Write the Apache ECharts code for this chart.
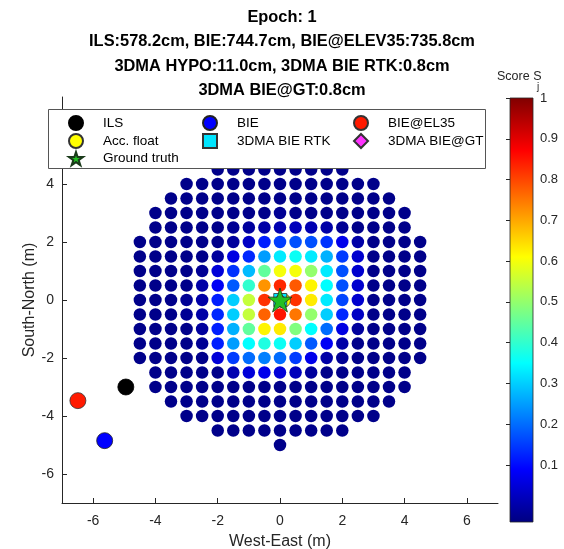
<!DOCTYPE html>
<html><head><meta charset="utf-8">
<script src="https://cdn.jsdelivr.net/npm/echarts/dist/echarts.min.js"></script>
<style>html,body{margin:0;padding:0;background:#fff}#c{width:564px;height:549px}</style>
</head><body><div id="c"></div>
<script>
const _ = null;
const titleLines = ['Epoch: 1', 'ILS:578.2cm, BIE:744.7cm, BIE@ELEV35:735.8cm', '3DMA HYPO:11.0cm, 3DMA BIE RTK:0.8cm', '3DMA BIE@GT:0.8cm'];
const xTicks = [-6, -4, -2, 0, 2, 4, 6];
const yTicks = [-6, -4, -2, 0, 2, 4, 6];
const yTickLabels = [-6, -4, -2, 0, 2, 4];
const cbTicks = [0.1, 0.2, 0.3, 0.4, 0.5, 0.6, 0.7, 0.8, 0.9, 1];
const gridX = [-5, -4.5, -4, -3.5, -3, -2.5, -2, -1.5, -1, -0.5, 0, 0.5, 1, 1.5, 2, 2.5, 3, 3.5, 4, 4.5, 5];
const gridY = [5, 4.5, 4, 3.5, 3, 2.5, 2, 1.5, 1, 0.5, 0, -0.5, -1, -1.5, -2, -2.5, -3, -3.5, -4, -4.5, -5];
const scoreRows = [
  [_,_,_,_,_,_,_,_,_,_,-0.03,_,_,_,_,_,_,_,_,_,_],
  [_,_,_,_,_,_,-0.03,-0.03,-0.03,-0.03,-0.03,-0.03,-0.03,-0.03,-0.03,_,_,_,_,_,_],
  [_,_,_,_,-0.03,-0.03,-0.03,-0.03,-0.03,-0.03,-0.03,-0.03,-0.03,-0.03,-0.03,-0.03,-0.03,_,_,_,_],
  [_,_,_,-0.03,-0.03,-0.03,-0.03,-0.03,-0.03,-0.03,-0.03,-0.03,-0.03,-0.03,-0.03,-0.03,-0.03,-0.03,_,_,_],
  [_,_,-0.03,-0.03,-0.03,-0.03,-0.03,-0.03,-0.03,-0.03,-0.02,-0.03,-0.03,-0.03,-0.03,-0.03,-0.03,-0.03,-0.03,_,_],
  [_,_,-0.03,-0.03,-0.03,-0.03,-0.03,-0.02,-0.01,0.0,0.01,0.02,0.01,0.0,-0.02,-0.03,-0.03,-0.03,-0.03,_,_],
  [_,-0.03,-0.03,-0.03,-0.03,-0.03,-0.03,-0.01,0.03,0.12,0.15,0.17,0.17,0.14,0.07,0.0,-0.03,-0.03,-0.03,-0.03,_],
  [_,-0.03,-0.03,-0.03,-0.03,-0.03,-0.01,0.06,0.13,0.25,0.33,0.36,0.33,0.27,0.15,0.04,-0.03,-0.03,-0.03,-0.03,_],
  [_,-0.03,-0.03,-0.03,-0.03,-0.02,0.05,0.14,0.28,0.45,0.6,0.6,0.5,0.33,0.17,0.04,-0.03,-0.03,-0.03,-0.03,_],
  [_,-0.03,-0.03,-0.03,-0.03,0.0,0.08,0.18,0.4,0.72,0.83,0.78,0.62,0.35,0.17,0.04,-0.03,-0.03,-0.03,-0.03,_],
  [_,-0.03,-0.03,-0.03,-0.02,0.0,0.12,0.3,0.55,0.82,0.97,0.82,0.63,0.33,0.16,0.04,-0.03,-0.03,-0.03,-0.03,_],
  [_,-0.03,-0.03,-0.03,-0.02,0.0,0.13,0.3,0.55,0.77,0.85,0.75,0.5,0.3,0.13,0.03,-0.03,-0.03,-0.03,-0.03,_],
  [_,-0.03,-0.03,-0.03,-0.03,-0.01,0.12,0.27,0.45,0.62,0.63,0.48,0.35,0.2,0.06,-0.01,-0.03,-0.03,-0.03,-0.03,_],
  [_,-0.03,-0.03,-0.03,-0.03,-0.02,0.12,0.25,0.35,0.38,0.36,0.3,0.18,0.08,0.0,-0.03,-0.03,-0.03,-0.03,-0.03,_],
  [_,-0.03,-0.03,-0.03,-0.03,-0.03,0.05,0.15,0.2,0.22,0.2,0.15,0.07,0.0,-0.02,-0.03,-0.03,-0.03,-0.03,-0.03,_],
  [_,_,-0.03,-0.03,-0.03,-0.03,-0.03,0.01,0.05,0.07,0.05,0.02,-0.01,-0.03,-0.03,-0.03,-0.03,-0.03,-0.03,_,_],
  [_,_,-0.03,-0.03,-0.03,-0.03,-0.03,-0.03,-0.03,-0.03,-0.03,-0.03,-0.03,-0.03,-0.03,-0.03,-0.03,-0.03,-0.03,_,_],
  [_,_,_,-0.03,-0.03,-0.03,-0.03,-0.03,-0.03,-0.03,-0.03,-0.03,-0.03,-0.03,-0.03,-0.03,-0.03,-0.03,_,_,_],
  [_,_,_,_,-0.03,-0.03,-0.03,-0.03,-0.03,-0.03,-0.03,-0.03,-0.03,-0.03,-0.03,-0.03,-0.03,_,_,_,_],
  [_,_,_,_,_,_,-0.03,-0.03,-0.03,-0.03,-0.03,-0.03,-0.03,-0.03,-0.03,_,_,_,_,_,_],
  [_,_,_,_,_,_,_,_,_,_,-0.03,_,_,_,_,_,_,_,_,_,_]
];
const ilsPos = [[-4.95, -3.0]];
const biePos = [[-5.63, -4.85]];
const bieEl35Pos = [[-6.49, -3.47]];
const accFloatPos = [[0.11, -0.02]];
const bieRtkPos = [[0.008, 0.0]];
const bieGtPos = [[0.006, -0.004]];
const groundTruthPos = [[0, 0]];
const cbMin = -0.04, cbMax = 1;
const jet = ['#000080','#0000FF','#0080FF','#00FFFF','#80FF80','#FFFF00','#FF8000','#FF0000','#800000'];

const gridData = [];
scoreRows.forEach((row, i) => row.forEach((s, j) => { if (s !== null) gridData.push([gridX[j], gridY[i], s]); }));

const FONT = 'Liberation Sans, Arial, Helvetica, sans-serif';
const AX = '#262626';
const STAR = 'path://M50,2 L61.2,36.2 L97.6,36.2 L68.2,57.6 L79.4,91.8 L50,70.6 L20.6,91.8 L31.8,57.6 L2.4,36.2 L38.8,36.2 Z';

const chart = echarts.init(document.getElementById('c'), null, {renderer: 'canvas'});
const legendBase = {
  orient: 'vertical', top: 115, itemWidth: 14, itemHeight: 14, itemGap: 2, z: 10,
  padding: 0, selectedMode: false, symbolKeepAspect: true,
  textStyle: {fontFamily: FONT, fontSize: 13.5, color: '#000', padding: [0, 0, 0, 15]}
};
chart.setOption({
  animation: false,
  title: {
    text: titleLines.join('\n'), left: 'center', top: 5, padding: [0, 4, 0, 0],
    textStyle: {fontFamily: FONT, fontSize: 16.4, fontWeight: 'bold', color: '#000', lineHeight: 24.5}
  },
  grid: [
    {left: 62, right: 66, top: 97, bottom: 46, containLabel: false, outerBoundsMode: 'none'},
    {left: 510, top: 98, width: 23, height: 424, containLabel: false, outerBoundsMode: 'none'}
  ],
  xAxis: [
    {gridIndex: 0, type: 'value', min: -7, max: 7,
     axisLine: {show: true, onZero: false, lineStyle: {color: AX, width: 1}},
     axisTick: {show: true, inside: true, length: 5, customValues: xTicks, lineStyle: {color: AX}},
     axisLabel: {customValues: xTicks, margin: 11, fontSize: 14, color: AX, fontFamily: FONT},
     splitLine: {show: false},
     name: 'West-East (m)', nameLocation: 'middle', nameGap: 31, nameMoveOverlap: false,
     nameTextStyle: {fontSize: 16, color: AX, fontFamily: FONT}},
    {gridIndex: 1, type: 'value', min: 0, max: 1, show: false}
  ],
  yAxis: [
    {gridIndex: 0, type: 'value', min: -7, max: 7,
     axisLine: {show: true, onZero: false, lineStyle: {color: AX, width: 1}},
     axisTick: {show: true, inside: true, length: 5, customValues: yTicks, lineStyle: {color: AX}},
     axisLabel: {customValues: yTickLabels, margin: 8, fontSize: 14, color: AX, fontFamily: FONT},
     splitLine: {show: false},
     name: 'South-North (m)', nameLocation: 'middle', nameGap: 24, nameRotate: 90, nameMoveOverlap: false,
     nameTextStyle: {fontSize: 16, color: AX, fontFamily: FONT}},
    {gridIndex: 1, type: 'value', min: cbMin, max: cbMax, position: 'right',
     axisLine: {show: false},
     axisTick: {show: true, inside: true, length: 4, customValues: cbTicks, lineStyle: {color: AX}},
     axisLabel: {customValues: cbTicks, margin: 7, fontSize: 13, color: AX, fontFamily: FONT},
     splitLine: {show: false}}
  ],
  visualMap: {type: 'continuous', show: false, seriesIndex: 0, dimension: 2, min: cbMin, max: cbMax, inRange: {color: jet}},
  legend: [
    Object.assign({}, legendBase, {left: 68, data: ['ILS', 'Acc. float', 'Ground truth']}),
    Object.assign({}, legendBase, {left: 202, data: ['BIE', '3DMA BIE RTK']}),
    Object.assign({}, legendBase, {left: 353, data: ['BIE@EL35', '3DMA BIE@GT']})
  ],
  graphic: [
    {type: 'rect', z: 1, shape: {x: 510, y: 98, width: 23, height: 424},
     style: {fill: {type: 'linear', x: 0, y: 1, x2: 0, y2: 0,
       colorStops: jet.map((c, i) => ({offset: i / (jet.length - 1), color: c}))},
       stroke: AX, lineWidth: 0.8}},
    {type: 'rect', z: 5, shape: {x: 48.5, y: 109.5, width: 437, height: 59},
     style: {fill: '#fff', stroke: '#555', lineWidth: 1}},
    {type: 'text', z: 5, x: 497, y: 70, style: {text: 'Score S', fontSize: 12.5, fill: AX, fontFamily: FONT}},
    {type: 'text', z: 5, x: 537, y: 82, style: {text: 'j', fontSize: 10, fill: AX, fontFamily: FONT}}
  ],
  series: [
    {type: 'scatter', name: 'score', xAxisIndex: 0, yAxisIndex: 0, data: gridData, symbol: 'circle', symbolSize: 12.5, itemStyle: {opacity: 1}, z: 2},
    {type: 'scatter', name: 'ILS', data: ilsPos, symbol: 'circle', symbolSize: 16, itemStyle: {color: '#000', borderColor: '#000', borderWidth: 0.8, opacity: 1}, z: 3},
    {type: 'scatter', name: 'BIE', data: biePos, symbol: 'circle', symbolSize: 16, itemStyle: {color: '#0000FF', borderColor: '#222', borderWidth: 0.8, opacity: 1}, z: 3},
    {type: 'scatter', name: 'BIE@EL35', data: bieEl35Pos, symbol: 'circle', symbolSize: 16, itemStyle: {color: '#FF1A00', borderColor: '#333', borderWidth: 0.8, opacity: 1}, z: 3},
    {type: 'scatter', name: 'Acc. float', data: accFloatPos, symbol: 'circle', symbolSize: 14, itemStyle: {color: '#FFFF00', borderColor: '#333', borderWidth: 0.8, opacity: 1}, z: 3},
    {type: 'scatter', name: '3DMA BIE RTK', data: bieRtkPos, symbol: 'rect', symbolSize: 13, itemStyle: {color: '#00E5FF', borderColor: '#333', borderWidth: 0.8, opacity: 1}, z: 3},
    {type: 'scatter', name: '3DMA BIE@GT', data: bieGtPos, symbol: 'diamond', symbolSize: [12, 15], itemStyle: {color: '#FF33FF', borderColor: '#333', borderWidth: 0.8, opacity: 1}, z: 3},
    {type: 'scatter', name: 'Ground truth', data: groundTruthPos, symbol: STAR, symbolSize: 24, itemStyle: {color: '#22C022', borderColor: '#1a3a1a', borderWidth: 0.8, opacity: 1}, z: 4}
  ]
});
</script>
</body></html>
